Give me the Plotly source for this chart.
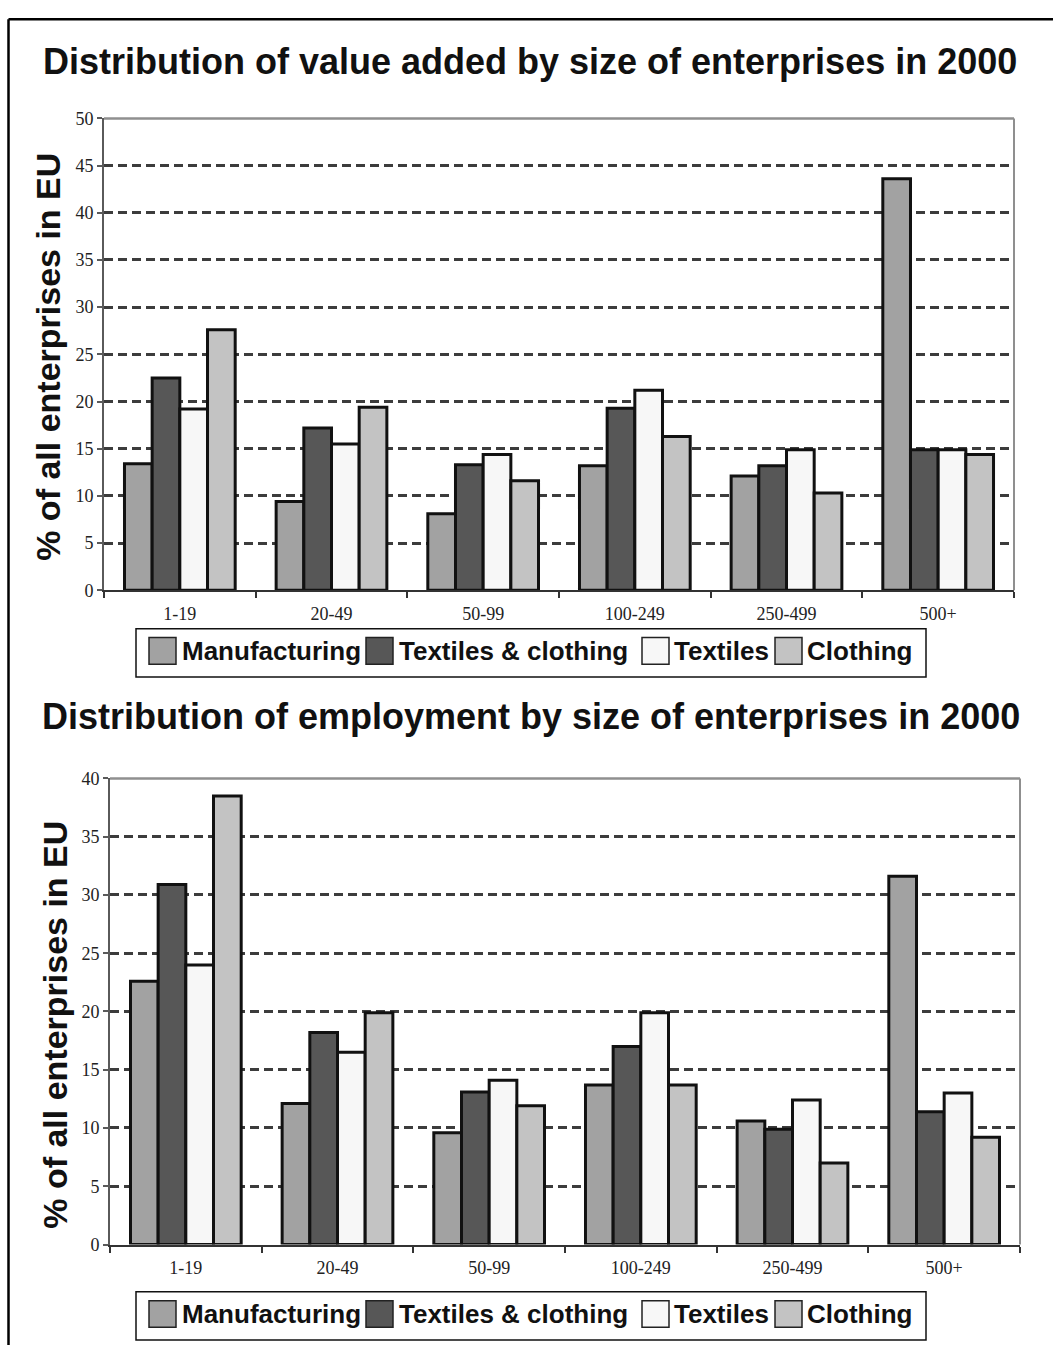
import plotly.graph_objects as go

W, H = 1053, 1355

# Enterprise size classes (number of persons employed)
sizes = ["1-19", "20-49", "50-99", "100-249", "250-499", "500+"]
series_names = ["Manufacturing", "Textiles & clothing", "Textiles", "Clothing"]
fill_colors = ["#a2a2a2", "#575757", "#f7f7f7", "#c3c3c3"]

# Share of value added, %
value_added_manufacturing = [13.4, 9.4, 8.1, 13.2, 12.1, 43.6]
value_added_textiles_clothing = [22.5, 17.2, 13.3, 19.3, 13.2, 14.9]
value_added_textiles = [19.2, 15.5, 14.4, 21.2, 14.9, 14.9]
value_added_clothing = [27.6, 19.4, 11.6, 16.3, 10.3, 14.4]

# Share of employment, %
employment_manufacturing = [22.6, 12.1, 9.6, 13.7, 10.6, 31.6]
employment_textiles_clothing = [30.9, 18.2, 13.1, 17.0, 9.9, 11.4]
employment_textiles = [24.0, 16.5, 14.1, 19.9, 12.4, 13.0]
employment_clothing = [38.5, 19.9, 11.9, 13.7, 7.0, 9.2]

value_ticks = [0, 5, 10, 15, 20, 25, 30, 35, 40, 45, 50]
employment_ticks = [0, 5, 10, 15, 20, 25, 30, 35, 40]

title_top = "Distribution of value added by size of enterprises in 2000"
title_bottom = "Distribution of employment by size of enterprises in 2000"
y_title = "% of all enterprises in EU"

SANS = "Liberation Sans, Arial, Helvetica, sans-serif"
SERIF = "Liberation Serif, Times New Roman, serif"


def fx(p):
    return p / W


def fy(p):
    return 1 - p / H


fig = go.Figure()

top_series = [value_added_manufacturing, value_added_textiles_clothing,
              value_added_textiles, value_added_clothing]
bottom_series = [employment_manufacturing, employment_textiles_clothing,
                 employment_textiles, employment_clothing]

for name, color, vals in zip(series_names, fill_colors, top_series):
    fig.add_trace(go.Bar(x=sizes, y=vals, name=name, xaxis="x", yaxis="y",
                         marker=dict(color=color, line=dict(color="#111111", width=3)),
                         showlegend=False))
for name, color, vals in zip(series_names, fill_colors, bottom_series):
    fig.add_trace(go.Bar(x=sizes, y=vals, name=name, xaxis="x2", yaxis="y2",
                         marker=dict(color=color, line=dict(color="#111111", width=3)),
                         showlegend=False))


def xaxis_cfg(x0, x1, anchor):
    return dict(domain=[fx(x0), fx(x1)], anchor=anchor, type="category",
                showline=True, linecolor="#333333", linewidth=2,
                ticks="outside", tickson="boundaries", ticklen=6,
                tickcolor="#333333", tickwidth=1.5, ticklabelstandoff=6,
                tickfont=dict(family=SERIF, size=18, color="#222222"),
                showgrid=False, zeroline=False, fixedrange=True)


def yaxis_cfg(y_bottom, y_top, anchor, rng, ticks):
    return dict(domain=[fy(y_bottom), fy(y_top)], anchor=anchor, range=rng,
                tickvals=ticks, showline=True, linecolor="#5a5a5a", linewidth=2,
                ticks="outside", ticklen=5, tickcolor="#5a5a5a", tickwidth=1.5,
                tickfont=dict(family=SERIF, size=18, color="#222222"),
                showgrid=True, gridcolor="#3c3c3c", gridwidth=2.5,
                griddash="9px,5px", zeroline=False, fixedrange=True)


TOP_PLOT = (104, 1014, 110, 589)
BOT_PLOT = (110, 1020, 780, 1253)

shapes = []
annotations = []

# Thin grey frame on the top and right sides of each plot area
for xr, yr in (("x", "y"), ("x2", "y2")):
    shapes.append(dict(type="line", xref=f"{xr} domain", yref=f"{yr} domain",
                       x0=0, x1=1, y0=1, y1=1, line=dict(color="#8f8f8f", width=2.5)))
    shapes.append(dict(type="line", xref=f"{xr} domain", yref=f"{yr} domain",
                       x0=1, x1=1, y0=0, y1=1, line=dict(color="#8f8f8f", width=2)))

# Outer page frame
shapes.append(dict(type="line", xref="paper", yref="paper",
                   x0=fx(8.5), x1=fx(8.5), y0=0, y1=fy(9.5),
                   line=dict(color="#000000", width=2.5)))
shapes.append(dict(type="line", xref="paper", yref="paper",
                   x0=fx(8.5), x1=1, y0=fy(9.5), y1=fy(9.5),
                   line=dict(color="#000000", width=2.5)))

# Legends drawn as boxed rows of swatches and labels
swatch_x = [149, 366, 642, 775]
label_x = [180, 397, 672, 805]
for box_top in (628, 1301):
    shapes.append(dict(type="rect", xref="paper", yref="paper",
                       x0=fx(136), x1=fx(926), y0=fy(box_top + 49), y1=fy(box_top),
                       line=dict(color="#111111", width=1.5), fillcolor="white",
                       layer="below"))
    for sx, lx, name, color in zip(swatch_x, label_x, series_names, fill_colors):
        shapes.append(dict(type="rect", xref="paper", yref="paper",
                           x0=fx(sx), x1=fx(sx + 27), y0=fy(box_top + 36), y1=fy(box_top + 9),
                           line=dict(color="#222222", width=1.5), fillcolor=color))
        annotations.append(dict(xref="paper", yref="paper", x=fx(lx), y=fy(box_top + 23),
                                xanchor="left", yanchor="middle", showarrow=False,
                                text=name,
                                font=dict(family=SANS, size=26, color="#111111", weight="bold")))

# Chart titles
for text, cx, cy in ((title_top, 530, 52), (title_bottom, 531, 717)):
    annotations.append(dict(xref="paper", yref="paper", x=fx(cx), y=fy(cy),
                            xanchor="center", yanchor="middle", showarrow=False,
                            text=text,
                            font=dict(family=SANS, size=36, color="#111111", weight="bold")))

# Rotated y-axis titles
for cx, cy in ((48, 352), (55, 1030)):
    annotations.append(dict(xref="paper", yref="paper", x=fx(cx), y=fy(cy),
                            xanchor="center", yanchor="middle", showarrow=False,
                            text=y_title, textangle=-90,
                            font=dict(family=SANS, size=34, color="#111111", weight="bold")))

fig.update_layout(
    width=W, height=H,
    margin=dict(l=0, r=0, t=0, b=0),
    paper_bgcolor="white", plot_bgcolor="white",
    barmode="group", bargap=0.27, bargroupgap=0,
    showlegend=False,
    xaxis=xaxis_cfg(TOP_PLOT[0], TOP_PLOT[1], "y"),
    yaxis=yaxis_cfg(TOP_PLOT[3], TOP_PLOT[2], "x", [0, 50], value_ticks),
    xaxis2=xaxis_cfg(BOT_PLOT[0], BOT_PLOT[1], "y2"),
    yaxis2=yaxis_cfg(BOT_PLOT[3], BOT_PLOT[2], "x2", [0, 40], employment_ticks),
    shapes=shapes,
    annotations=annotations,
)

fig.write_html("out.html")
